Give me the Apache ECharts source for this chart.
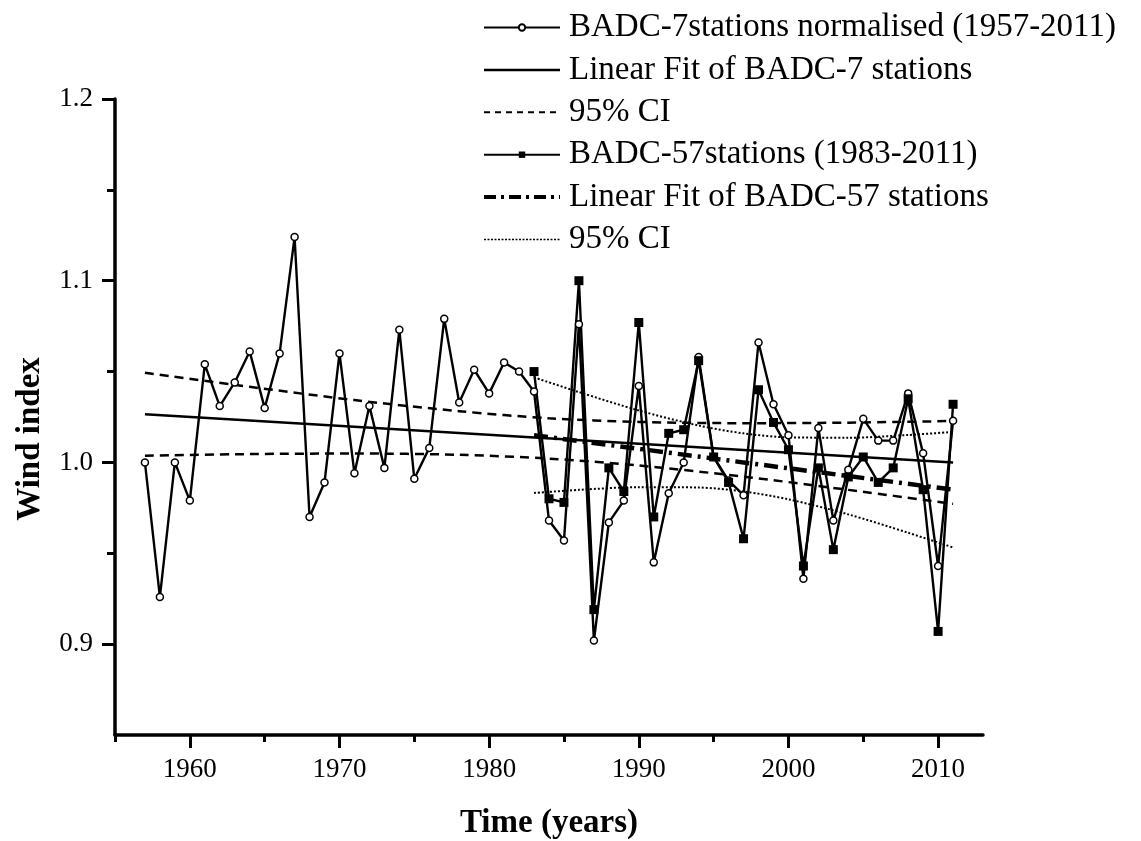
<!DOCTYPE html>
<html>
<head>
<meta charset="utf-8">
<script src="https://cdn.jsdelivr.net/npm/echarts@6/dist/echarts.min.js"></script>
<style>
  html, body { margin: 0; padding: 0; background: #fff; }
  #chart { width: 1141px; height: 841px; }
</style>
</head>
<body>
<div id="chart"></div>
<script>
// Normalised wind index, 7 stations (1957-2011)
const years7 = [1957, 1958, 1959, 1960, 1961, 1962, 1963, 1964, 1965, 1966,
  1967, 1968, 1969, 1970, 1971, 1972, 1973, 1974, 1975, 1976,
  1977, 1978, 1979, 1980, 1981, 1982, 1983, 1984, 1985, 1986,
  1987, 1988, 1989, 1990, 1991, 1992, 1993, 1994, 1995, 1996,
  1997, 1998, 1999, 2000, 2001, 2002, 2003, 2004, 2005, 2006,
  2007, 2008, 2009, 2010, 2011];
const wind7 = [1.000, 0.926, 1.000, 0.979, 1.054, 1.031, 1.044, 1.061, 1.030, 1.060,
  1.124, 0.970, 0.989, 1.060, 0.994, 1.031, 0.997, 1.073, 0.991, 1.008,
  1.079, 1.033, 1.051, 1.038, 1.055, 1.050, 1.039, 0.968, 0.957, 1.076,
  0.902, 0.967, 0.979, 1.042, 0.945, 0.983, 1.000, 1.058, 1.003, 0.990,
  0.982, 1.066, 1.032, 1.015, 0.936, 1.019, 0.968, 0.996, 1.024, 1.012,
  1.012, 1.038, 1.005, 0.943, 1.023];

// Wind index, 57 stations (1983-2011)
const years57 = [1983, 1984, 1985, 1986, 1987, 1988, 1989, 1990, 1991, 1992,
  1993, 1994, 1995, 1996, 1997, 1998, 1999, 2000, 2001, 2002,
  2003, 2004, 2005, 2006, 2007, 2008, 2009, 2010, 2011];
const wind57 = [1.050, 0.980, 0.978, 1.100, 0.919, 0.997, 0.984, 1.077, 0.970, 1.016,
  1.018, 1.056, 1.003, 0.989, 0.958, 1.040, 1.022, 1.007, 0.943, 0.997,
  0.952, 0.992, 1.003, 0.989, 0.997, 1.035, 0.985, 0.907, 1.032];

// Linear fits and their 95% confidence bands
const fit7Years = [1957, 2011];
const fit7Values = [1.0265, 1.000];
const ci7Years = [1957, 1964, 1971, 1978, 1984, 1990, 1997, 2004, 2011];
const ci7Upper = [1.0493, 1.0416, 1.0343, 1.0282, 1.0243, 1.0223, 1.0216, 1.0219, 1.0228];
const ci7Lower = [1.0037, 1.0046, 1.0049, 1.0042, 1.0021, 0.9983, 0.9922, 0.9849, 0.9772];

const fit57Years = [1983, 2011];
const fit57Values = [1.015, 0.985];
const ci57Years = [1983, 1986, 1990, 1994, 1997, 2000, 2004, 2008, 2011];
const ci57Upper = [1.0468, 1.0387, 1.0286, 1.0203, 1.0160, 1.0138, 1.0136, 1.0151, 1.0168];
const ci57Lower = [0.9832, 0.9849, 0.9864, 0.9862, 0.9840, 0.9797, 0.9714, 0.9613, 0.9532];

// Axis ticks
const xMajorTicks = [1960, 1970, 1980, 1990, 2000, 2010];
const xMinorTicks = [1955, 1965, 1975, 1985, 1995, 2005];
const yMajorTicks = [0.9, 1.0, 1.1, 1.2];
const yMinorTicks = [0.95, 1.05, 1.15];

const NAME_7 = 'BADC-7stations normalised (1957-2011)';
const NAME_FIT7 = 'Linear Fit of BADC-7 stations';
const NAME_CI7 = 'CI-7';
const NAME_57 = 'BADC-57stations (1983-2011)';
const NAME_FIT57 = 'Linear Fit of BADC-57 stations';
const NAME_CI57 = 'CI-57';
const legendText = {
  [NAME_7]: NAME_7,
  [NAME_FIT7]: NAME_FIT7,
  [NAME_CI7]: '95% CI',
  [NAME_57]: NAME_57,
  [NAME_FIT57]: NAME_FIT57,
  [NAME_CI57]: '95% CI'
};

const pairs = (xs, ys) => xs.map((x, i) => [x, ys[i]]);

const SERIF = '"Liberation Serif", "Times New Roman", serif';
const INK = '#000';

const dash7 = [9, 6];
const dashDot57 = [14, 6, 3, 6];
const dot57 = [2, 2];

const chart = echarts.init(document.getElementById('chart'), null, { renderer: 'canvas' });

const baseX = {
  type: 'value', min: 1955, max: 2013, position: 'bottom',
  splitLine: { show: false }
};
const baseY = {
  type: 'value', min: 0.85, max: 1.2, position: 'left',
  splitLine: { show: false }
};

chart.setOption({
  animation: false,
  backgroundColor: '#fff',
  grid: { left: 115, right: 158, top: 99, bottom: 106, containLabel: false, outerBoundsMode: 'none' },
  legend: {
    orient: 'vertical', left: 482, top: 11, padding: 0,
    itemWidth: 76, itemHeight: 8, itemGap: 9.4,
    selectedMode: false,
    textStyle: { fontFamily: SERIF, fontSize: 33, color: INK, lineHeight: 33, padding: [0, 0, 0, 4] },
    formatter: n => legendText[n],
    data: [
      { name: NAME_7 },
      { name: NAME_FIT7, itemStyle: { opacity: 0 }, lineStyle: { width: 2.5 } },
      { name: NAME_CI7, itemStyle: { opacity: 0 }, lineStyle: { width: 2, type: [6, 5] } },
      { name: NAME_57 },
      { name: NAME_FIT57, itemStyle: { opacity: 0 }, lineStyle: { width: 4, type: [12, 5, 3, 5] } },
      { name: NAME_CI57, itemStyle: { opacity: 0 }, lineStyle: { width: 1.5, type: [2, 1.5] } }
    ]
  },
  xAxis: [
    Object.assign({}, baseX, {
      name: 'Time (years)', nameLocation: 'middle', nameGap: 72,
      nameTextStyle: { fontFamily: SERIF, fontSize: 33, fontWeight: 'bold', color: INK },
      axisLine: { show: true, onZero: false, lineStyle: { color: INK, width: 3.5 } },
      axisTick: { show: true, customValues: xMajorTicks, length: 13, lineStyle: { color: INK, width: 3 } },
      axisLabel: { show: true, customValues: xMajorTicks, margin: 21,
        fontFamily: SERIF, fontSize: 27, color: INK, formatter: v => String(v) }
    }),
    Object.assign({}, baseX, {
      axisLine: { show: false, onZero: false },
      axisTick: { show: true, customValues: xMinorTicks, length: 7, lineStyle: { color: INK, width: 3 } },
      axisLabel: { show: false }
    })
  ],
  yAxis: [
    Object.assign({}, baseY, {
      name: 'Wind index', nameLocation: 'middle', nameGap: 68, nameRotate: 90,
      nameTextStyle: { fontFamily: SERIF, fontSize: 33, fontWeight: 'bold', color: INK, padding: [0, 44, 0, 0] },
      axisLine: { show: true, onZero: false, lineStyle: { color: INK, width: 3.5 } },
      axisTick: { show: true, customValues: yMajorTicks, length: 13, lineStyle: { color: INK, width: 3 } },
      axisLabel: { show: true, customValues: yMajorTicks, margin: 22,
        fontFamily: SERIF, fontSize: 27, color: INK, formatter: v => v.toFixed(1) }
    }),
    Object.assign({}, baseY, {
      axisLine: { show: false, onZero: false },
      axisTick: { show: true, customValues: yMinorTicks, length: 8, lineStyle: { color: INK, width: 3 } },
      axisLabel: { show: false }
    })
  ],
  series: [
    {
      name: NAME_FIT7, type: 'line', data: pairs(fit7Years, fit7Values),
      symbol: 'none', lineStyle: { color: INK, width: 2.5 }, itemStyle: { color: INK }
    },
    {
      name: NAME_CI7, type: 'line', data: pairs(ci7Years, ci7Upper), smooth: 0.3,
      symbol: 'none', lineStyle: { color: INK, width: 2.5, type: dash7 }, itemStyle: { color: INK }
    },
    {
      name: NAME_CI7, type: 'line', data: pairs(ci7Years, ci7Lower), smooth: 0.3,
      symbol: 'none', lineStyle: { color: INK, width: 2.5, type: dash7 }, itemStyle: { color: INK }
    },
    {
      name: NAME_FIT57, type: 'line', data: pairs(fit57Years, fit57Values),
      symbol: 'none', lineStyle: { color: INK, width: 4.5, type: dashDot57 }, itemStyle: { color: INK }
    },
    {
      name: NAME_CI57, type: 'line', data: pairs(ci57Years, ci57Upper), smooth: 0.3,
      symbol: 'none', lineStyle: { color: INK, width: 2, type: dot57 }, itemStyle: { color: INK }
    },
    {
      name: NAME_CI57, type: 'line', data: pairs(ci57Years, ci57Lower), smooth: 0.3,
      symbol: 'none', lineStyle: { color: INK, width: 2, type: dot57 }, itemStyle: { color: INK }
    },
    {
      name: NAME_7, type: 'line', data: pairs(years7, wind7),
      symbol: 'circle', symbolSize: 7, showAllSymbol: true,
      lineStyle: { color: INK, width: 2.4 },
      itemStyle: { color: '#fff', borderColor: INK, borderWidth: 1.5 }
    },
    {
      name: NAME_57, type: 'line', data: pairs(years57, wind57),
      symbol: 'rect', symbolSize: 9, showAllSymbol: true,
      lineStyle: { color: INK, width: 2.4 },
      itemStyle: { color: INK }
    }
  ]
});
</script>
</body>
</html>
